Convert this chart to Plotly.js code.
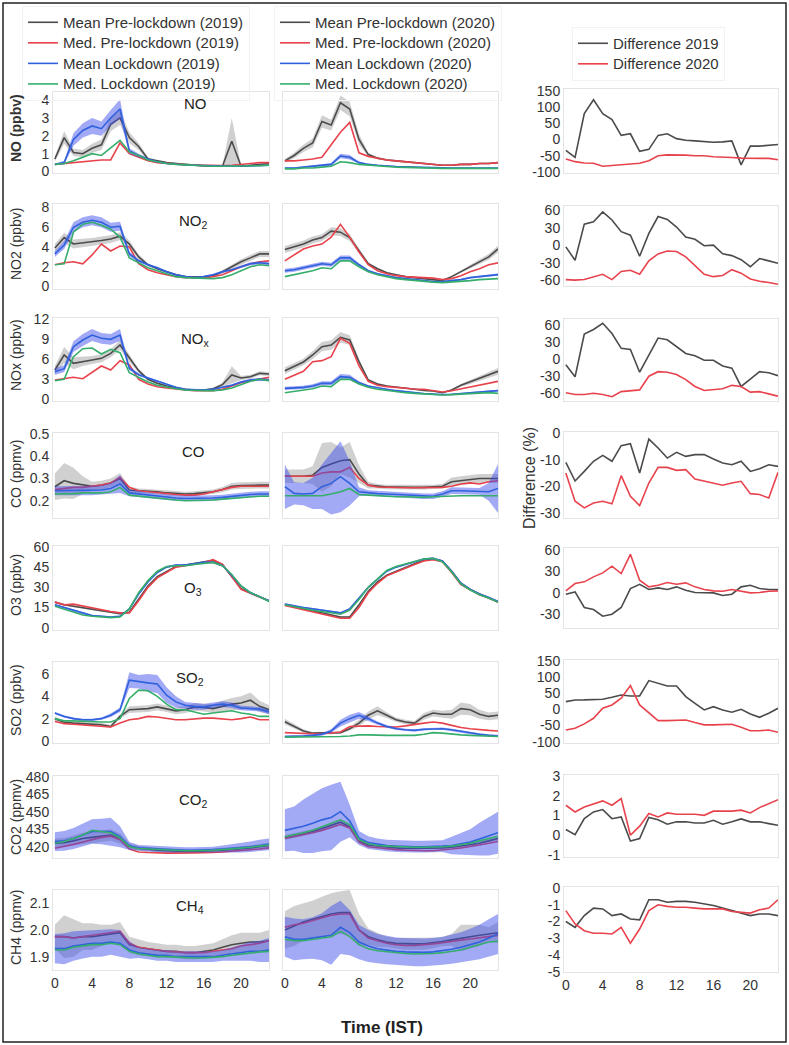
<!DOCTYPE html>
<html><head><meta charset="utf-8">
<script src="https://cdn.plot.ly/plotly-3.0.1.min.js"></script>
<style>html,body{margin:0;padding:0;background:#fff}#chart{width:789px;height:1045px}</style>
</head><body><div id="chart"></div>
<script>
const hours = [0,1,2,3,4,5,6,7,8,9,10,11,12,13,14,15,16,17,18,19,20,21,22,23];
const xTicks = [0,4,8,12,16,20];

// ---------- NO ----------
const NO19_meanPre = [0.7,1.9,1.07,1.0,1.3,1.5,2.65,3.0,1.9,1.4,0.7,0.6,0.5,0.45,0.4,0.35,0.32,0.3,0.3,1.7,0.3,0.35,0.4,0.45];
const NO19_sdPre   = [0.15,0.35,0.2,0.2,0.25,0.3,0.4,0.4,0.3,0.2,0.1,0.05,0.05,0.05,0.05,0.04,0.04,0.04,0.04,1.3,0.05,0.05,0.05,0.05];
const NO19_medPre  = [0.4,0.45,0.5,0.55,0.6,0.65,0.65,1.6,1.0,0.8,0.6,0.5,0.45,0.4,0.38,0.36,0.34,0.33,0.33,0.35,0.4,0.45,0.5,0.5];
const NO19_meanLock= [0.4,0.5,1.8,2.3,2.55,2.4,3.0,3.5,1.15,0.9,0.7,0.55,0.45,0.4,0.37,0.35,0.33,0.3,0.3,0.3,0.3,0.32,0.33,0.35];
const NO19_sdLock  = [0.05,0.1,0.35,0.4,0.45,0.4,0.45,0.55,0.15,0.1,0.05,0.04,0.03,0.03,0.03,0.03,0.03,0.03,0.03,0.03,0.03,0.03,0.03,0.03];
const NO19_medLock = [0.4,0.45,0.6,0.8,1.0,0.9,1.3,1.75,1.1,0.9,0.65,0.55,0.45,0.4,0.37,0.35,0.33,0.3,0.3,0.3,0.3,0.32,0.33,0.35];
const NO20_meanPre = [0.6,0.9,1.3,1.6,2.8,2.6,3.85,3.5,1.8,0.95,0.75,0.65,0.6,0.55,0.5,0.45,0.4,0.35,0.35,0.4,0.4,0.45,0.45,0.5];
const NO20_sdPre   = [0.1,0.15,0.2,0.25,0.35,0.3,0.4,0.4,0.3,0.1,0.06,0.05,0.04,0.04,0.04,0.04,0.04,0.04,0.04,0.04,0.04,0.04,0.04,0.04];
const NO20_medPre  = [0.6,0.6,0.65,0.7,0.8,1.5,2.2,2.75,1.05,0.85,0.75,0.65,0.6,0.55,0.5,0.45,0.4,0.35,0.35,0.4,0.4,0.45,0.45,0.5];
const NO20_meanLock= [0.2,0.2,0.25,0.3,0.35,0.4,0.87,0.8,0.5,0.4,0.35,0.3,0.28,0.26,0.24,0.22,0.2,0.2,0.2,0.2,0.2,0.2,0.2,0.2];
const NO20_sdLock  = [0.03,0.03,0.04,0.05,0.06,0.08,0.12,0.12,0.06,0.04,0.03,0.03,0.03,0.03,0.03,0.03,0.03,0.03,0.03,0.03,0.03,0.03,0.03,0.03];
const NO20_medLock = [0.15,0.15,0.2,0.2,0.25,0.3,0.55,0.5,0.4,0.35,0.3,0.28,0.25,0.23,0.21,0.2,0.19,0.18,0.18,0.18,0.18,0.18,0.18,0.18];
const NO_diff19 = [-33,-55,80,123,80,62,13,18,-36,-30,13,18,3,-2,-4,-6,-8,-7,-4,-78,-20,-20,-17,-15];
const NO_diff20 = [-60,-68,-72,-73,-82,-80,-77,-75,-73,-65,-50,-47,-47,-48,-50,-50,-53,-53,-55,-57,-57,-56,-58,-62];

// ---------- NO2 ----------
const NO2_19_meanPre = [3.9,4.95,4.3,4.4,4.5,4.65,4.8,5.1,4.3,3.0,2.2,1.8,1.5,1.2,1.0,0.95,0.95,1.1,1.5,2.0,2.5,2.9,3.3,3.3];
const NO2_19_sdPre   = [0.4,0.5,0.45,0.4,0.4,0.4,0.4,0.4,0.35,0.25,0.15,0.1,0.1,0.1,0.1,0.1,0.1,0.1,0.15,0.2,0.25,0.3,0.3,0.3];
const NO2_19_medPre  = [2.2,2.4,2.5,2.3,3.2,4.3,3.6,4.1,4.0,2.3,1.7,1.4,1.2,1.0,0.9,0.9,0.9,1.0,1.2,1.6,2.0,2.3,2.5,2.6];
const NO2_19_meanLock= [3.3,4.2,6.0,6.5,6.7,6.5,6.0,6.1,3.3,2.6,2.2,1.9,1.5,1.2,1.0,0.9,1.0,1.2,1.5,1.7,2.0,2.3,2.4,2.3];
const NO2_19_sdLock  = [0.3,0.4,0.5,0.5,0.5,0.5,0.45,0.45,0.25,0.15,0.1,0.1,0.1,0.1,0.08,0.08,0.08,0.1,0.1,0.1,0.12,0.15,0.15,0.15];
const NO2_19_medLock = [2.2,2.3,5.5,6.3,6.5,6.2,5.8,5.0,2.9,2.4,1.9,1.6,1.3,1.0,0.9,0.85,0.85,0.8,0.9,1.2,1.6,2.0,2.2,2.1];
const NO2_20_meanPre = [3.75,4.0,4.3,4.7,4.95,5.6,5.5,4.95,3.6,2.3,1.8,1.4,1.2,1.0,0.9,0.8,0.7,0.6,1.0,1.5,2.0,2.5,3.0,3.8];
const NO2_20_sdPre   = [0.35,0.35,0.35,0.35,0.35,0.4,0.4,0.35,0.25,0.15,0.1,0.1,0.08,0.08,0.08,0.08,0.08,0.08,0.1,0.15,0.2,0.25,0.3,0.35];
const NO2_20_medPre  = [2.6,3.2,3.8,4.1,4.3,5.0,6.3,5.0,3.5,2.2,1.6,1.3,1.1,1.0,0.95,0.9,0.85,0.7,0.8,1.1,1.5,1.8,2.2,2.4];
const NO2_20_meanLock= [1.6,1.7,1.9,2.1,2.3,2.2,2.9,2.9,2.2,1.6,1.3,1.1,0.9,0.8,0.7,0.6,0.5,0.5,0.6,0.7,0.9,1.0,1.1,1.2];
const NO2_20_sdLock  = [0.2,0.2,0.2,0.2,0.2,0.2,0.25,0.25,0.15,0.1,0.08,0.08,0.06,0.06,0.06,0.06,0.06,0.06,0.06,0.08,0.1,0.1,0.12,0.12];
const NO2_20_medLock = [1.0,1.2,1.4,1.6,1.9,1.8,2.6,2.6,2.0,1.5,1.2,1.0,0.8,0.7,0.6,0.5,0.45,0.4,0.45,0.5,0.6,0.7,0.75,0.8];
const NO2_diff19 = [-3,-26,36,40,57,43,23,17,-19,20,49,44,31,14,10,-1,0,-15,-18,-25,-37,-23,-27,-31];
const NO2_diff20 = [-59,-60,-59,-55,-50,-59,-45,-43,-50,-27,-15,-10,-11,-20,-35,-50,-54,-52,-42,-48,-58,-62,-64,-67];

// ---------- NOx ----------
const NOx19_meanPre = [4.4,6.65,5.4,5.7,5.9,6.15,6.9,8.15,6.15,4.3,3.0,2.4,2.0,1.7,1.5,1.4,1.4,1.6,2.2,3.65,3.2,3.4,3.9,3.8];
const NOx19_sdPre   = [0.6,1.2,0.9,0.7,0.6,0.6,0.6,0.7,0.5,0.3,0.2,0.15,0.1,0.1,0.1,0.1,0.1,0.15,0.3,1.3,0.3,0.3,0.3,0.3];
const NOx19_medPre  = [2.9,3.1,3.3,3.1,4.0,5.0,4.4,5.8,5.2,3.0,2.3,1.9,1.7,1.5,1.4,1.3,1.3,1.3,1.5,2.0,2.5,2.8,3.1,3.3];
const NOx19_meanLock= [4.15,4.6,7.9,8.9,9.65,9.15,9.0,9.65,4.65,3.7,3.2,2.7,2.2,1.8,1.5,1.4,1.4,1.5,1.8,2.1,2.6,2.9,3.0,2.9];
const NOx19_sdLock  = [0.5,0.5,0.8,0.9,0.9,0.8,0.8,0.9,0.3,0.2,0.15,0.15,0.1,0.1,0.1,0.1,0.1,0.1,0.1,0.15,0.15,0.2,0.2,0.2];
const NOx19_medLock = [2.8,3.0,6.4,7.6,7.7,6.8,7.5,7.0,4.0,3.3,2.6,2.1,1.8,1.6,1.4,1.3,1.3,1.3,1.4,1.7,2.2,2.7,3.0,2.8];
const NOx20_meanPre = [4.3,5.0,5.6,6.65,7.9,8.15,9.3,8.9,5.65,2.9,2.3,2.0,1.8,1.6,1.5,1.35,1.25,1.0,1.4,2.1,2.6,3.1,3.6,4.2];
const NOx20_sdPre   = [0.5,0.5,0.5,0.6,0.7,0.7,0.8,0.7,0.4,0.2,0.15,0.1,0.1,0.1,0.1,0.1,0.1,0.1,0.15,0.2,0.3,0.35,0.4,0.5];
const NOx20_medPre  = [3.0,3.6,4.2,5.65,5.8,6.4,9.15,8.4,5.0,2.7,2.1,1.9,1.75,1.6,1.55,1.5,1.35,1.1,1.3,1.6,1.9,2.2,2.4,2.7];
const NOx20_meanLock= [1.65,1.7,1.8,2.0,2.4,2.4,3.4,3.3,2.5,2.0,1.7,1.5,1.3,1.1,1.0,0.85,0.75,0.7,0.75,0.9,1.0,1.1,1.2,1.3];
const NOx20_sdLock  = [0.25,0.25,0.25,0.25,0.3,0.3,0.4,0.4,0.2,0.1,0.08,0.08,0.08,0.06,0.06,0.06,0.06,0.06,0.06,0.08,0.1,0.1,0.1,0.12];
const NOx20_medLock = [1.0,1.2,1.4,1.6,2.0,1.9,3.0,3.0,2.3,1.8,1.5,1.3,1.1,1.0,0.9,0.8,0.7,0.65,0.7,0.8,0.9,1.0,1.0,0.9];
const NOx_diff19 = [-10,-31,44,52,63,45,19,17,-23,8,37,34,22,10,6,-2,-2,-12,-16,-48,-35,-22,-24,-29];
const NOx_diff20 = [-59,-62,-62,-60,-62,-66,-57,-55,-54,-30,-22,-23,-27,-36,-48,-55,-54,-52,-46,-48,-58,-57,-61,-65];

// ---------- CO ----------
const CO19_meanPre = [0.263,0.29,0.278,0.27,0.265,0.27,0.28,0.30,0.248,0.245,0.243,0.24,0.235,0.232,0.23,0.232,0.235,0.24,0.25,0.265,0.268,0.27,0.27,0.27];
const CO19_sdPre   = [0.06,0.08,0.07,0.04,0.02,0.02,0.02,0.025,0.015,0.01,0.01,0.01,0.01,0.01,0.01,0.01,0.01,0.01,0.012,0.015,0.015,0.015,0.015,0.015];
const CO19_medPre  = [0.25,0.255,0.26,0.26,0.265,0.27,0.28,0.305,0.26,0.245,0.24,0.235,0.23,0.228,0.225,0.225,0.23,0.24,0.25,0.26,0.265,0.265,0.265,0.265];
const CO19_meanLock= [0.245,0.245,0.245,0.245,0.245,0.248,0.255,0.275,0.235,0.23,0.225,0.22,0.215,0.212,0.21,0.21,0.21,0.212,0.215,0.22,0.225,0.228,0.23,0.23];
const CO19_sdLock  = [0.02,0.02,0.02,0.02,0.02,0.02,0.025,0.04,0.015,0.012,0.012,0.012,0.012,0.012,0.012,0.012,0.012,0.012,0.012,0.012,0.012,0.012,0.012,0.012];
const CO19_medLock = [0.23,0.23,0.232,0.235,0.235,0.235,0.24,0.26,0.225,0.22,0.215,0.21,0.205,0.203,0.2,0.2,0.2,0.203,0.207,0.21,0.215,0.218,0.22,0.22];
const CO20_meanPre = [0.31,0.31,0.31,0.315,0.35,0.365,0.38,0.385,0.32,0.27,0.265,0.262,0.262,0.26,0.26,0.26,0.262,0.265,0.285,0.29,0.295,0.3,0.3,0.3];
const CO20_sdPre   = [0.03,0.03,0.03,0.04,0.11,0.1,0.06,0.08,0.04,0.015,0.01,0.01,0.01,0.01,0.01,0.01,0.01,0.01,0.02,0.02,0.02,0.02,0.02,0.02];
const CO20_medPre  = [0.31,0.31,0.31,0.31,0.325,0.33,0.33,0.35,0.3,0.27,0.262,0.26,0.26,0.258,0.258,0.258,0.26,0.26,0.265,0.275,0.28,0.275,0.285,0.29];
const CO20_meanLock= [0.263,0.233,0.23,0.233,0.263,0.278,0.308,0.278,0.24,0.235,0.232,0.23,0.228,0.225,0.222,0.22,0.22,0.23,0.245,0.245,0.243,0.242,0.24,0.255];
const CO20_sdLock  = [0.1,0.05,0.05,0.07,0.1,0.14,0.16,0.1,0.02,0.012,0.012,0.012,0.012,0.012,0.012,0.012,0.012,0.012,0.015,0.015,0.015,0.015,0.04,0.11];
const CO20_medLock = [0.222,0.222,0.222,0.222,0.222,0.23,0.24,0.255,0.228,0.225,0.222,0.22,0.218,0.218,0.215,0.215,0.218,0.22,0.222,0.222,0.222,0.222,0.222,0.222];
const CO_diff19 = [-11,-18,-14.4,-10.6,-8.4,-10.6,-4.75,-4,-15,-2.25,-5.6,-9.4,-7.25,-8.75,-8.1,-8.1,-9.75,-11.25,-11.9,-10.6,-14.4,-13.4,-11.9,-12.5];
const CO_diff20 = [-15,-25.6,-28.1,-26.25,-25.6,-26.6,-16,-23.75,-27.25,-18.75,-12.9,-12.9,-14,-13.75,-17.25,-18.1,-18.75,-19.6,-18.75,-18.1,-22.75,-23.1,-24.4,-14.75];

// ---------- O3 ----------
const O3_19_meanPre = [19,17,16,15,13.5,12.5,11.5,10.5,11.5,21,31,38,42,45.5,46.5,47.5,48.5,50,47,38,29,26,23,20];
const O3_19_sdPre   = [0.6,0.6,0.6,0.6,0.6,0.6,0.6,0.6,0.6,0.6,0.6,0.6,0.6,0.6,0.6,0.6,0.6,0.6,0.6,0.6,0.6,0.6,0.6,0.6];
const O3_19_medPre  = [19,17,17.5,16,14.5,13,12,11,11,20,30,37,41,45,46,47,48.5,50.5,47,38,28.5,25.5,23,20];
const O3_19_meanLock= [17,15,12.5,10.5,9,8.5,8,8.5,14,25,34,41,45,46.5,46.5,47.5,48.5,48.5,46,39,31,26,23,20];
const O3_19_sdLock  = [0.6,0.6,0.6,0.6,0.6,0.6,0.6,0.6,0.6,0.6,0.6,0.6,0.6,0.6,0.6,0.6,0.6,0.6,0.6,0.6,0.6,0.6,0.6,0.6];
const O3_19_medLock = [16,14,11.5,9.5,8.5,8,7.5,8,14,26,35,42,45.5,46,46,47,48,48.5,46,39.5,31,26,23,19.5];
const O3_20_meanPre = [17,15.5,14,12.5,11,9.5,8,8,17,27,34,39,42,45,47.5,50,51,49.5,42,33,28.5,25,22,19];
const O3_20_sdPre   = [0.6,0.6,0.6,0.6,0.6,0.6,0.6,0.6,0.6,0.6,0.6,0.6,0.6,0.6,0.6,0.6,0.6,0.6,0.6,0.6,0.6,0.6,0.6,0.6];
const O3_20_medPre  = [16.5,15,13,11.5,10,8.5,7,7,15,26,33,38.5,41.5,44.5,47,49.5,50.5,49,41,32,28,24.5,22,19];
const O3_20_meanLock= [17.5,16,15,14,13,12,11,14,22,30,36,42,45,47,49,51,51.5,49.5,42,33,28.5,25,22.5,19.5];
const O3_20_sdLock  = [0.6,0.6,0.6,0.6,0.6,0.6,0.6,0.6,0.6,0.6,0.6,0.6,0.6,0.6,0.6,0.6,0.6,0.6,0.6,0.6,0.6,0.6,0.6,0.6];
const O3_20_medLock = [17,15.5,14.5,13,12,11,10,13,21,30,36.5,42.5,45.5,47.5,49,51,51.5,49,41.5,32.5,28,24.5,22,19];
const O3_diff19 = [-1.9,1.4,-20.5,-23.3,-32.7,-29.9,-20.5,6,12,4.7,7,4.7,8.4,3.7,0.5,0.5,0,-3.7,-1.9,8.4,10.7,6,4.7,4.7];
const O3_diff20 = [2.8,13,15.4,22.4,28,37.3,27,54,17.7,8.4,10.7,14.5,12,14,8.4,4.7,2.8,2.3,4.7,2.8,0,0.5,2.3,2.8];

// ---------- SO2 ----------
const SO2_19_meanPre = [2.0,1.67,1.6,1.55,1.5,1.45,1.3,2.2,2.8,2.85,2.9,3.05,2.9,2.7,2.8,3.05,3.0,2.9,3.1,3.3,3.4,3.65,3.1,2.8];
const SO2_19_sdPre   = [0.2,0.15,0.15,0.15,0.15,0.15,0.15,0.2,0.3,0.3,0.3,0.3,0.3,0.3,0.3,0.35,0.35,0.4,0.5,0.55,0.6,0.7,0.5,0.4];
const SO2_19_medPre  = [1.75,1.55,1.5,1.45,1.4,1.35,1.25,1.6,1.9,2.0,2.2,2.15,2.0,1.9,1.9,2.0,2.05,2.05,2.0,1.9,2.0,2.15,1.9,1.9];
const SO2_19_meanLock= [2.5,2.2,2.0,1.9,1.9,2.0,2.3,2.8,5.45,5.3,5.2,5.1,4.1,3.5,3.2,3.1,3.05,3.2,3.3,3.2,2.95,2.9,2.85,2.6];
const SO2_19_sdLock  = [0.1,0.1,0.1,0.1,0.1,0.1,0.15,0.2,0.7,0.6,0.8,0.8,0.7,0.5,0.3,0.3,0.25,0.25,0.25,0.25,0.2,0.2,0.2,0.2];
const SO2_19_medLock = [2.0,1.8,1.8,1.75,1.7,1.7,1.7,2.0,3.8,4.55,4.5,4.0,3.3,2.8,2.8,2.6,2.4,2.5,2.6,2.7,2.5,2.4,2.2,2.2];
const SO2_20_meanPre = [1.73,1.3,0.9,0.7,0.7,0.7,0.75,1.1,1.6,2.3,2.7,2.3,1.9,1.7,1.6,2.2,2.5,2.4,2.4,2.9,2.8,2.4,2.2,2.3];
const SO2_20_sdPre   = [0.25,0.2,0.15,0.1,0.1,0.1,0.1,0.15,0.3,0.35,0.4,0.25,0.2,0.2,0.2,0.3,0.3,0.3,0.4,0.55,0.5,0.4,0.35,0.35];
const SO2_20_medPre  = [0.75,0.7,0.65,0.65,0.65,0.7,0.8,1.3,1.35,1.35,1.3,1.25,1.25,1.35,1.5,1.6,1.7,1.6,1.4,1.2,1.1,1.0,0.95,0.9];
const SO2_20_meanLock= [0.4,0.4,0.45,0.5,0.6,0.9,1.6,2.0,2.3,2.0,1.6,1.3,1.1,1.0,0.95,1.05,1.1,1.1,1.0,0.85,0.7,0.6,0.5,0.45];
const SO2_20_sdLock  = [0.1,0.1,0.1,0.1,0.12,0.15,0.3,0.35,0.3,0.2,0.15,0.12,0.1,0.1,0.1,0.1,0.1,0.1,0.1,0.1,0.1,0.1,0.1,0.1];
const SO2_20_medLock = [0.35,0.35,0.35,0.35,0.35,0.38,0.4,0.45,0.55,0.55,0.5,0.5,0.5,0.5,0.5,0.6,0.75,0.7,0.6,0.55,0.5,0.45,0.4,0.4];
const SO2_diff19 = [23.7,28.8,29,29.8,30.9,37,44,41,41,88.5,80,72,72,39,18.5,-2,8,-2,-9,0,-14.4,-24.7,-12.3,3];
const SO2_diff20 = [-64,-58.6,-45,-27.8,3,13.4,34,73,13.4,-12.3,-35,-35,-33,-33,-41,-48,-48,-48,-46,-55.6,-66,-66,-64,-71];

// ---------- CO2 ----------
const CO2_19_meanPre = [423,423.4,425,427,428,429,430,427,420.6,418.5,417.5,417,416.5,416,416,416,416,416.5,417,417.5,418,419,420,421];
const CO2_19_sdPre   = [4,4,4.5,5,5,5,5,4.5,2.5,2,2,2,2,2,2,2,2,2,2,2,2,2,2,2.5];
const CO2_19_medPre  = [418.6,420,422,424,426,428,429,426,418,415.5,415,414.5,414.5,414.5,414.5,414.5,414.5,415,415.5,416,416.5,417,418,419];
const CO2_19_meanLock= [424.3,425,427,430,433,433,432.9,428.6,420.6,419,418.5,418,417.5,417.5,417,417,417,417.5,418,418.5,419,420,421,422];
const CO2_19_sdLock  = [8,8.5,9,10,10.5,11,12,9,3.5,2.5,2.5,2.5,2.5,2.5,2.5,2.5,2.5,2.5,3,3.5,4,4.5,5,5];
const CO2_19_medLock = [423,424.5,427,430,434,433,432,427.5,420,418.5,418,417.5,417,417,416.5,416.5,416.5,417,417.5,418,418.5,419.5,420.5,421.5];
const CO2_20_meanPre = [428,429.5,431,433,435.5,438,441,437,425.5,421.5,420.5,419.5,419,418.5,418.5,418.5,418.5,419,419.5,420.5,421.5,423,425,427];
const CO2_20_sdPre   = [2,2,2,2,2,2,2,2,1.5,1,1,1,1,1,1,1,1,1,1,1,1,1.5,1.5,2];
const CO2_20_medPre  = [427,428.5,430,432,434,436.5,439,436,424,420,419,418,417.5,417,416.5,416.5,416.5,417,418,419,420,421.5,423,424.5];
const CO2_20_meanLock= [434,435.5,437.5,440,443,445,450,442,427.5,423.5,422,421,420.5,420,420,420,420,420.5,421,422.5,424,426.5,429,432];
const CO2_20_sdLock  = [18,19,23,25.5,27,28,25.7,14,6,5.5,5,5,5,5,5,5,5,5,7.5,9,11,14,16.5,18];
const CO2_20_medLock = [428.5,430,432,434,437,439.5,443,439,426,422.5,421,420.5,420,419.5,419.5,419.5,419.5,420,420.5,421.5,423,425,427,429];
const CO2_diff19 = [0.29,0.03,0.84,1.18,1.3,0.84,0.93,-0.29,-0.17,0.9,0.79,0.56,0.68,0.68,0.62,0.62,0.76,0.56,0.68,0.83,0.68,0.68,0.59,0.51];
const CO2_diff20 = [1.52,1.18,1.43,1.57,1.74,1.52,1.86,0.0,0.46,1.1,0.93,1.13,1.06,1.06,1.06,1.01,1.22,1.22,1.22,1.27,1.13,1.4,1.6,1.8];

// ---------- CH4 ----------
const CH4_19_meanPre = [1.975,1.975,1.97,1.975,1.975,1.98,1.985,1.99,1.945,1.935,1.93,1.925,1.92,1.92,1.915,1.915,1.92,1.925,1.935,1.945,1.95,1.955,1.955,1.96];
const CH4_19_sdPre   = [0.045,0.08,0.07,0.05,0.05,0.04,0.035,0.04,0.03,0.03,0.025,0.025,0.025,0.025,0.025,0.025,0.025,0.025,0.03,0.035,0.04,0.035,0.035,0.04];
const CH4_19_medPre  = [1.975,1.975,1.97,1.975,1.98,1.985,1.99,1.995,1.95,1.935,1.93,1.925,1.92,1.918,1.915,1.915,1.915,1.92,1.925,1.93,1.94,1.945,1.95,1.96];
const CH4_19_meanLock= [1.93,1.93,1.94,1.945,1.95,1.95,1.955,1.95,1.925,1.915,1.91,1.905,1.905,1.9,1.9,1.9,1.9,1.9,1.905,1.91,1.915,1.92,1.92,1.925];
const CH4_19_sdLock  = [0.055,0.058,0.055,0.052,0.05,0.05,0.048,0.05,0.033,0.02,0.02,0.02,0.02,0.02,0.02,0.02,0.02,0.02,0.02,0.025,0.03,0.035,0.04,0.045];
const CH4_19_medLock = [1.925,1.925,1.935,1.94,1.945,1.945,1.95,1.945,1.92,1.91,1.905,1.9,1.9,1.898,1.895,1.895,1.895,1.897,1.9,1.905,1.91,1.915,1.918,1.92];
const CH4_20_meanPre = [2.0,2.015,2.03,2.04,2.05,2.06,2.065,2.065,2.0,1.975,1.963,1.955,1.95,1.948,1.948,1.948,1.952,1.957,1.963,1.97,1.975,1.98,1.985,1.99];
const CH4_20_sdPre   = [0.07,0.075,0.07,0.07,0.075,0.078,0.08,0.085,0.06,0.031,0.027,0.02,0.02,0.022,0.022,0.022,0.02,0.018,0.022,0.05,0.045,0.04,0.025,0.04];
const CH4_20_medPre  = [2.01,2.02,2.025,2.035,2.045,2.055,2.06,2.06,2.0,1.97,1.96,1.95,1.945,1.942,1.942,1.944,1.948,1.952,1.958,1.962,1.966,1.97,1.975,1.98];
const CH4_20_meanLock= [1.975,1.965,1.965,1.97,1.975,1.98,2.01,1.99,1.955,1.94,1.93,1.925,1.92,1.918,1.916,1.916,1.918,1.922,1.928,1.935,1.945,1.955,1.97,1.985];
const CH4_20_sdLock  = [0.075,0.078,0.075,0.078,0.088,0.11,0.1,0.085,0.065,0.06,0.055,0.053,0.052,0.052,0.052,0.052,0.052,0.052,0.055,0.057,0.06,0.065,0.07,0.075];
const CH4_20_medLock = [1.965,1.96,1.96,1.965,1.97,1.975,1.995,1.975,1.945,1.93,1.922,1.918,1.915,1.912,1.91,1.91,1.912,1.915,1.92,1.925,1.935,1.945,1.955,1.958];
const CH4_diff19 = [-2.0,-2.35,-1.65,-1.2,-1.25,-1.65,-1.55,-1.85,-1.9,-0.7,-0.7,-0.85,-0.8,-0.8,-0.85,-0.95,-1.05,-1.2,-1.35,-1.5,-1.65,-1.55,-1.55,-1.65];
const CH4_diff20 = [-1.35,-2.15,-2.55,-2.7,-2.7,-2.75,-2.35,-3.3,-2.45,-1.35,-1.0,-1.1,-1.15,-1.15,-1.2,-1.25,-1.25,-1.25,-1.4,-1.45,-1.5,-1.3,-1.2,-0.7];

// ---------- assemble ----------
function yr(mp, sp, md, ml, sl, mdl){ return {meanPre:mp, sdPre:sp, medPre:md, meanLock:ml, sdLock:sl, medLock:mdl}; }
const series = [
  {y:[yr(NO19_meanPre,NO19_sdPre,NO19_medPre,NO19_meanLock,NO19_sdLock,NO19_medLock), yr(NO20_meanPre,NO20_sdPre,NO20_medPre,NO20_meanLock,NO20_sdLock,NO20_medLock)], d:[NO_diff19,NO_diff20]},
  {y:[yr(NO2_19_meanPre,NO2_19_sdPre,NO2_19_medPre,NO2_19_meanLock,NO2_19_sdLock,NO2_19_medLock), yr(NO2_20_meanPre,NO2_20_sdPre,NO2_20_medPre,NO2_20_meanLock,NO2_20_sdLock,NO2_20_medLock)], d:[NO2_diff19,NO2_diff20]},
  {y:[yr(NOx19_meanPre,NOx19_sdPre,NOx19_medPre,NOx19_meanLock,NOx19_sdLock,NOx19_medLock), yr(NOx20_meanPre,NOx20_sdPre,NOx20_medPre,NOx20_meanLock,NOx20_sdLock,NOx20_medLock)], d:[NOx_diff19,NOx_diff20]},
  {y:[yr(CO19_meanPre,CO19_sdPre,CO19_medPre,CO19_meanLock,CO19_sdLock,CO19_medLock), yr(CO20_meanPre,CO20_sdPre,CO20_medPre,CO20_meanLock,CO20_sdLock,CO20_medLock)], d:[CO_diff19,CO_diff20]},
  {y:[yr(O3_19_meanPre,O3_19_sdPre,O3_19_medPre,O3_19_meanLock,O3_19_sdLock,O3_19_medLock), yr(O3_20_meanPre,O3_20_sdPre,O3_20_medPre,O3_20_meanLock,O3_20_sdLock,O3_20_medLock)], d:[O3_diff19,O3_diff20]},
  {y:[yr(SO2_19_meanPre,SO2_19_sdPre,SO2_19_medPre,SO2_19_meanLock,SO2_19_sdLock,SO2_19_medLock), yr(SO2_20_meanPre,SO2_20_sdPre,SO2_20_medPre,SO2_20_meanLock,SO2_20_sdLock,SO2_20_medLock)], d:[SO2_diff19,SO2_diff20]},
  {y:[yr(CO2_19_meanPre,CO2_19_sdPre,CO2_19_medPre,CO2_19_meanLock,CO2_19_sdLock,CO2_19_medLock), yr(CO2_20_meanPre,CO2_20_sdPre,CO2_20_medPre,CO2_20_meanLock,CO2_20_sdLock,CO2_20_medLock)], d:[CO2_diff19,CO2_diff20]},
  {y:[yr(CH4_19_meanPre,CH4_19_sdPre,CH4_19_medPre,CH4_19_meanLock,CH4_19_sdLock,CH4_19_medLock), yr(CH4_20_meanPre,CH4_20_sdPre,CH4_20_medPre,CH4_20_meanLock,CH4_20_sdLock,CH4_20_medLock)], d:[CH4_diff19,CH4_diff20]}
];

// ---------- geometry (pixels) ----------
const W = 789, H = 1045;
const colPx = [[53,269],[283,498],[564,778]];
const rows = [
  {top:92, bot:173, range:[-0.08,4.45], ticks:[0,1,2,3,4], dec:0, top3:89, bot3:173, range3:[-103,156], ticks3:[-100,-50,0,50,100,150], label:'NO', lx:195, ly:103, title:'<b>NO (ppbv)</b>', ty:128},
  {top:204, bot:289, range:[-0.25,8.35], ticks:[0,2,4,6,8], dec:0, top3:206, bot3:286, range3:[-70,67], ticks3:[-60,-30,0,30,60], label:'NO<sub>2</sub>', lx:193, ly:222, title:'NO2 (ppbv)', ty:244},
  {top:318, bot:401, range:[-0.25,12.2], ticks:[0,3,6,9,12], dec:0, top3:319, bot3:401, range3:[-73.5,70.5], ticks3:[-60,-30,0,30,60], label:'NO<sub>x</sub>', lx:195, ly:340, title:'NOx (ppbv)', ty:355},
  {top:433, bot:518, range:[0.122,0.505], ticks:[0.2,0.3,0.4,0.5], dec:1, top3:432, bot3:518, range3:[-31.9,0.4], ticks3:[-30,-20,-10,0], label:'CO', lx:193, ly:451, title:'CO (ppmv)', ty:474},
  {top:546, bot:630, range:[-1.7,60.7], ticks:[0,15,30,45,60], dec:0, top3:548, bot3:628, range3:[-49.2,62.8], ticks3:[-30,0,30,60], label:'O<sub>3</sub>', lx:193, ly:588, title:'O3 (ppbv)', ty:585},
  {top:662, bot:743, range:[-0.18,7.07], ticks:[0,2,4,6], dec:0, top3:660, bot3:743, range3:[-104,152], ticks3:[-100,-50,0,50,100,150], label:'SO<sub>2</sub>', lx:190, ly:678, title:'SO2 (ppbv)', ty:700},
  {top:776, bot:858, range:[410.3,480.6], ticks:[420,435,450,465,480], dec:0, top3:775, bot3:857, range3:[-1.1,3.05], ticks3:[-1,0,1,2,3], label:'CO<sub>2</sub>', lx:193, ly:800, title:'CO2 (ppmv)', ty:817},
  {top:890, bot:970, range:[1.85,2.15], ticks:[1.9,2.0,2.1], dec:1, top3:887, bot3:972, range3:[-5.02,0.06], ticks3:[-5,-4,-3,-2,-1,0], label:'CH<sub>4</sub>', lx:190, ly:906, title:'CH4 (ppmv)', ty:928}
];

const FONT = 'Liberation Sans, Arial, sans-serif';
const C_GRAY = '#4b4b4b', C_RED = '#e8434d', C_BLUE = '#2f62dc', C_GREEN = '#35ae6b';
const F_GRAY = 'rgba(150,150,150,0.45)', F_BLUE = 'rgba(60,75,235,0.48)';
const LW = 1.6;

const traces = [];
const layout = {
  width: W, height: H, margin:{l:0,r:0,t:0,b:0}, paper_bgcolor:'#fff', plot_bgcolor:'rgba(0,0,0,0)',
  font:{family:FONT, color:'#333'}, showlegend:true, annotations:[], shapes:[]
};
function fx(px){ return px / W; }
function fy(px){ return 1 - px / H; }
function sfx(n){ return n === 1 ? '' : String(n); }
function fmt(v, dec){ return dec ? v.toFixed(dec) : String(v); }
function legName(t){ return '<span style="font-size:15px">' + t + '</span>'; }

function band(mean, sd, color, xa, ya){
  const up = mean.map((v,i)=>v+sd[i]);
  const lo = mean.map((v,i)=>v-sd[i]);
  return {type:'scatter', mode:'lines', x: hours.concat(hours.slice().reverse()),
    y: up.concat(lo.slice().reverse()), fill:'toself', fillcolor:color,
    line:{width:0, color:'rgba(0,0,0,0)'}, hoverinfo:'skip', showlegend:false, xaxis:xa, yaxis:ya};
}
function line(y, color, name, show, leg, xa, ya){
  return {type:'scatter', mode:'lines', x:hours, y:y, line:{color:color, width:LW}, name:legName(name),
    showlegend:show, legend:leg, xaxis:xa, yaxis:ya, hoverinfo:'skip'};
}

rows.forEach((g, r) => {
  for (let c = 0; c < 3; c++) {
    const n = r*3 + c + 1;
    const xa = 'x' + sfx(n), ya = 'y' + sfx(n);
    const top = c === 2 ? g.top3 : g.top, bot = c === 2 ? g.bot3 : g.bot;
    const yt = c === 2 ? g.ticks3 : g.ticks;
    const dec = c === 2 ? 0 : g.dec;
    layout['xaxis' + sfx(n)] = {
      domain:[fx(colPx[c][0]), fx(colPx[c][1])], range:[-0.2, 23], anchor: ya,
      showgrid:false, zeroline:false, showline:true, mirror:true, linecolor:'#e4e4e4', linewidth:1,
      ticks:'', tickmode:'array', tickvals:xTicks, ticktext:xTicks.map(String),
      showticklabels: r === rows.length - 1, tickfont:{size:14, color:'#333', family:FONT}, fixedrange:true
    };
    layout['yaxis' + sfx(n)] = {
      domain:[fy(bot), fy(top)], range: c === 2 ? g.range3 : g.range, anchor: xa,
      showgrid:false, zeroline:false, showline:true, mirror:true, linecolor:'#e4e4e4', linewidth:1,
      ticks:'', tickmode:'array', tickvals:yt, ticktext:yt.map(v=>fmt(v,dec)),
      showticklabels: c !== 1, tickfont:{size:14, color:'#333', family:FONT}, fixedrange:true
    };
    const first = r === 0;
    if (c < 2) {
      const s = series[r].y[c];
      const yrs = c === 0 ? '2019' : '2020';
      const leg = c === 0 ? 'legend' : 'legend2';
      traces.push(band(s.meanPre, s.sdPre, F_GRAY, xa, ya));
      traces.push(line(s.meanPre, C_GRAY, 'Mean Pre-lockdown (' + yrs + ')', first, leg, xa, ya));
      traces.push(line(s.medPre, C_RED, 'Med. Pre-lockdown (' + yrs + ')', first, leg, xa, ya));
      traces.push(band(s.meanLock, s.sdLock, F_BLUE, xa, ya));
      traces.push(line(s.meanLock, C_BLUE, 'Mean Lockdown (' + yrs + ')', first, leg, xa, ya));
      traces.push(line(s.medLock, C_GREEN, 'Med. Lockdown (' + yrs + ')', first, leg, xa, ya));
    } else {
      traces.push(line(series[r].d[0], C_GRAY, 'Difference 2019', first, 'legend3', xa, ya));
      traces.push(line(series[r].d[1], C_RED, 'Difference 2020', first, 'legend3', xa, ya));
    }
  }
  layout.annotations.push({xref:'paper', yref:'paper', x:fx(g.lx), y:fy(g.ly), text:g.label, showarrow:false,
    font:{size:15, color:'#222', family:FONT}, xanchor:'center', yanchor:'middle'});
  layout.annotations.push({xref:'paper', yref:'paper', x:fx(16), y:fy(g.ty), text:g.title, showarrow:false,
    textangle:-90, font:{size:14, color:'#333', family:FONT}, xanchor:'center', yanchor:'middle'});
});

layout.annotations.push({xref:'paper', yref:'paper', x:fx(529), y:fy(478), text:'Difference (%)', showarrow:false,
  textangle:-90, font:{size:16, color:'#333', family:FONT}, xanchor:'center', yanchor:'middle'});
layout.annotations.push({xref:'paper', yref:'paper', x:fx(382), y:fy(1027), text:'<b>Time (IST)</b>', showarrow:false,
  font:{size:17, color:'#222', family:FONT}, xanchor:'center', yanchor:'middle'});

const legBase = {bgcolor:'rgba(0,0,0,0)', bordercolor:'#f2f2f2', borderwidth:1, xanchor:'left', yanchor:'top',
  font:{size:13.5, color:'#333', family:FONT}, tracegroupgap:0, itemwidth:30};
layout.legend  = Object.assign({}, legBase, {x:fx(22), y:fy(6)});
layout.legend2 = Object.assign({}, legBase, {x:fx(274), y:fy(6)});
layout.legend3 = Object.assign({}, legBase, {x:fx(572), y:fy(27)});

layout.shapes.push({type:'rect', xref:'paper', yref:'paper', x0:fx(3), x1:fx(786), y0:fy(1042), y1:fy(3),
  line:{color:'#222', width:1.5}, fillcolor:'rgba(0,0,0,0)'});

Plotly.newPlot('chart', traces, layout, {displayModeBar:false, staticPlot:true});
</script></body></html>
